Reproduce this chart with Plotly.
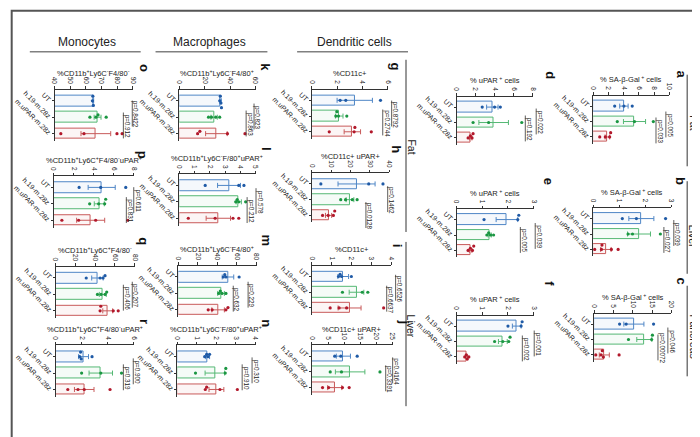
import plotly.graph_objects as go

W, H = 700, 437
groups = ["UT", "h.19-m.28z", "m.uPAR-m.28z"]

# ---------------- data ----------------
# Monocytes
o_mean = [64.7, 67.5, 66.4]; o_err = [0.3, 2.2, 9.5]
o_pts = [[64.2, 64.5, 64.8, 65.0], [62.6, 66.5, 67.8, 73.0], [44.0, 58.8, 79.9, 83.2]]
p_mean = [4.8, 4.56, 3.7]; p_err = [1.35, 0.5, 1.4]
p_pts = [[2.55, 4.7, 7.2], [3.6, 4.5, 5.1, 5.2], [0.83, 2.5, 4.2, 7.4]]
q_mean = [42.3, 47.7, 52.7]; q_err = [5.8, 3.5, 5.0]
q_pts = [[31, 45, 48, 50], [42.3, 46, 50, 51.7], [45, 45.7, 58.3, 63.3]]
r_mean = [2.15, 3.47, 2.2]; r_err = [0.38, 0.9, 0.75]
r_pts = [[1.85, 1.92, 1.97, 2.8], [2.0, 3.47, 5.06], [0.94, 1.72, 2.2, 4.18]]
# Macrophages
k_mean = [32.6, 27.4, 29.2]; k_err = [0.5, 2.5, 8.5]
k_pts = [[31.8, 32.3, 32.8, 33.2], [23, 25.3, 28.7, 31.8], [14.4, 16.2, 37.9, 51.7]]
l_mean = [3.26, 3.9, 2.56]; l_err = [0.75, 0.17, 0.8]
l_pts = [[1.7, 3.9, 4.24], [3.7, 3.8, 3.9, 4.35], [0.59, 2.35, 3.52, 3.9]]
m_mean = [50.8, 43.7, 40.7]; m_err = [5.9, 3.4, 6.4]
m_pts = [[46, 47.5, 48.8, 62.2], [41.3, 43, 44.7, 48.7], [30.6, 34.6, 48.7, 50.8]]
n_mean = [1.55, 1.92, 2.0]; n_err = [0.1, 0.5, 0.38]
n_pts = [[1.4, 1.5, 1.57, 1.65], [0.93, 2.45, 2.48], [1.43, 1.5, 2.18, 3.07]]
# Dendritic cells
g_mean = [3.39, 2.16, 3.2]; g_err = [1.4, 0.3, 0.65]
g_pts = [[2.23, 2.68, 5.43], [1.89, 1.97, 2.1, 2.76], [1.37, 3.34, 3.4, 4.7]]
h_mean = [23.1, 19.7, 8.6]; h_err = [9.6, 2.0, 1.6]
h_pts = [[4.6, 29.4, 36.8], [14.9, 17.4, 20.9, 23.4], [5.5, 8.4, 11.1, 11.8]]
i_mean = [1.58, 2.25, 1.9]; i_err = [0.27, 0.37, 0.58]
i_pts = [[1.34, 1.42, 1.5, 1.99], [1.54, 2.54, 2.82], [0.92, 1.37, 1.75, 3.62]]
j_mean = [9.8, 11.9, 7.1]; j_err = [2.2, 4.6, 2.2]
j_pts = [[7.1, 9.0, 14.1], [5.7, 9.2, 21.2], [3.3, 5.2, 9.5, 11.6]]
# uPAR+ cells
d_mean = [3.76, 3.9, 1.5]; d_err = [0.6, 1.55, 0.12]
d_pts = [[2.7, 4.0, 4.6], [1.74, 3.37, 6.85], [1.22, 1.46, 1.63, 1.74]]
e_mean = [1.96, 1.29, 0.55]; e_err = [0.42, 0.06, 0.05]
e_pts = [[1.07, 2.38, 2.42], [1.18, 1.25, 1.32, 1.44], [0.45, 0.54, 0.62, 0.67]]
f_mean = [2.34, 1.8, 0.39]; f_err = [0.17, 0.17, 0.04]
f_pts = [[2.0, 2.51, 2.55], [1.48, 1.8, 2.03, 2.08], [0.32, 0.38, 0.42, 0.48]]
# SA-beta-Gal+ cells
a_mean = [4.04, 5.43, 1.87]; a_err = [0.55, 1.45, 0.3]
a_pts = [[2.83, 4.04, 5.13], [3.17, 5.43, 7.9], [0.87, 1.6, 2.17, 2.3]]
b_mean = [1.85, 1.76, 0.49]; b_err = [0.48, 0.44, 0.2]
b_pts = [[1.12, 1.66, 2.78], [1.34, 1.51, 2.58], [0.06, 0.32, 0.34, 0.7, 0.96]]
c_mean = [10.3, 13.0, 2.64]; c_err = [2.6, 1.95, 1.3]
c_pts = [[6.6, 8.3, 15.4], [8.9, 14.9, 15.1], [0.43, 1.79, 2.13, 2.4, 6.47]]

# axis ticks
o_ticks = [40, 50, 60, 70, 80, 90]; p_ticks = [0, 2, 4, 6, 8]; q_ticks = [0, 20, 40, 60, 80]; r_ticks = [0, 2, 4, 6]
k_ticks = [0, 20, 40, 60]; l_ticks = [0, 1, 2, 3, 4, 5]; m_ticks = [0, 20, 40, 60, 80]; n_ticks = [0, 1, 2, 3, 4]
g_ticks = [0, 2, 4, 6]; h_ticks = [0, 10, 20, 30, 40]; i_ticks = [0, 1, 2, 3, 4]; j_ticks = [0, 5, 10, 15, 20, 25]
d_ticks = [0, 2, 4, 6, 8]; e_ticks = [0, 1, 2, 3]; f_ticks = [0, 1, 2, 3]
a_ticks = [0, 2, 4, 6, 8, 10]; b_ticks = [0, 1, 2, 3]; c_ticks = [0, 5, 10, 15, 20]

# p-values
o_p = ["p=0.8422", "p=0.912"]; p_p = ["p=0.611", "p=0.831"]; q_p = ["p=0.207", "p=0.406"]; r_p = ["p=0.900", "p=0.319"]
k_p = ["p=0.823", "p=0.863"]; l_p = ["p=0.578", "p=0.212"]; m_p = ["p=0.229", "p=0.632"]; n_p = ["p=0.310", "p=0.910"]
g_p = ["p=0.8792", "p=0.2744"]; h_p = ["p=0.1462", "p=0.0128"]; i_p = ["p=0.6526", "p=0.6637"]; j_p = ["p=0.4164", "p=0.3391"]
d_p = ["p=0.022", "p=0.192"]; e_p = ["p=0.039", "p=0.005"]; f_p = ["p=0.001", "p=0.002"]
a_p = ["p=0.005", "p=0.033"]; b_p = ["p=0.039", "p=0.027"]; c_p = ["p=0.046", "p=0.00072"]

T_MONO1 = "%CD11b<sup>+</sup>Ly6C<sup>-</sup>F4/80<sup>-</sup>"
T_MONO2 = "%CD11b<sup>+</sup>Ly6C<sup>+</sup>F4/80<sup>-</sup>uPAR<sup>+</sup>"
T_MONO3 = "%CD11b<sup>+</sup>Ly6C<sup>+</sup>F4/80<sup>-</sup>"
T_MAC1 = "%CD11b<sup>+</sup>Ly6C<sup>-</sup>F4/80<sup>+</sup>"
T_MAC2 = "%CD11b<sup>+</sup>Ly6C<sup>-</sup>F/80<sup>+</sup>uPAR<sup>+</sup>"
T_DC1 = "%CD11c+"
T_DC2 = "%CD11c+ uPAR+"
T_UPAR = "% uPAR<sup> +</sup> cells"
T_SA = "% SA-\u03b2-Gal<sup> +</sup> cells"

DATA = {
    "o": (o_mean, o_err, o_pts, o_ticks, o_p, T_MONO1),
    "p": (p_mean, p_err, p_pts, p_ticks, p_p, T_MONO2),
    "q": (q_mean, q_err, q_pts, q_ticks, q_p, T_MONO3),
    "r": (r_mean, r_err, r_pts, r_ticks, r_p, T_MONO2),
    "k": (k_mean, k_err, k_pts, k_ticks, k_p, T_MAC1),
    "l": (l_mean, l_err, l_pts, l_ticks, l_p, T_MAC2),
    "m": (m_mean, m_err, m_pts, m_ticks, m_p, T_MAC1),
    "n": (n_mean, n_err, n_pts, n_ticks, n_p, T_MAC2),
    "g": (g_mean, g_err, g_pts, g_ticks, g_p, T_DC1),
    "h": (h_mean, h_err, h_pts, h_ticks, h_p, T_DC2),
    "i": (i_mean, i_err, i_pts, i_ticks, i_p, T_DC1),
    "j": (j_mean, j_err, j_pts, j_ticks, j_p, T_DC2),
    "d": (d_mean, d_err, d_pts, d_ticks, d_p, T_UPAR),
    "e": (e_mean, e_err, e_pts, e_ticks, e_p, T_UPAR),
    "f": (f_mean, f_err, f_pts, f_ticks, f_p, T_UPAR),
    "a": (a_mean, a_err, a_pts, a_ticks, a_p, T_SA),
    "b": (b_mean, b_err, b_pts, b_ticks, b_p, T_SA),
    "c": (c_mean, c_err, c_pts, c_ticks, c_p, T_SA),
}

# ---------------- layout (pixel geometry) ----------------
# key: x0, x1, top, spacing, letter(x,y), p1(textx, texty, linex), p2(...)
GEOM = {
    "o": (44, 123, 80, 16.5, (135, 58), (126, 105, 122.5), (117, 117, 113.5)),
    "p": (43, 124, 167, 16.5, (133, 145), (128, 192, 124), (120, 202, 116.5)),
    "q": (45, 125, 258, 16.5, (133, 232), (126, 287, 122.5), (117, 290, 113.5)),
    "r": (45, 124, 337, 16.5, (135, 313), (127, 364, 123.5), (117, 370, 113.5)),
    "k": (170, 247, 80, 16.5, (257, 58), (249, 108, 245.5), (241, 115, 237.5)),
    "l": (170, 247, 165, 16.5, (258, 140), (251, 193, 247.5), (242, 202, 238.5)),
    "m": (169, 248, 257, 16.5, (258, 232), (243, 287, 239.5), (228, 291, 224.5)),
    "n": (168, 247, 337, 16.5, (258, 315), (247, 363, 243.5), (237, 370, 233.5)),
    "g": (304, 380.5, 80, 15.8, (388, 57), (388, 105, 384.5), (379, 114, 375.5)),
    "h": (304, 382, 164, 15.8, (390, 140), (384, 191, 380.5), (362, 207, 358.5)),
    "i": (304, 384, 257, 15.8, (390, 237), (392, 280, 388.5), (383, 291, 379.5)),
    "j": (304, 385, 337, 15.8, (397, 313), (389, 363, 385.5), (382, 371, 378.5)),
    "d": (450, 527, 87, 15.5, (545, 65), (534, 113, 530.5), (523, 120, 519.5)),
    "e": (450, 528, 200, 15.5, (543, 172), (533, 228, 529.5), (518, 232, 514.5)),
    "f": (450, 528, 307, 15.5, (544, 275), (532, 336, 528.5), (520, 341, 516.5)),
    "a": (588, 665, 86, 15.5, (677, 65), (665, 116, 661.5), (655, 122, 651.5)),
    "b": (588, 667, 199, 15.5, (677, 172), (673, 225, 669.5), (663, 232, 659.5)),
    "c": (589, 667, 305, 15.5, (677, 272), (667, 333, 663.5), (657, 340, 653.5)),
}

OUTLINE = ["#4f86c6", "#55b874", "#c85a5a"]
FILL = ["rgba(79,134,198,0.06)", "rgba(85,184,116,0.06)", "rgba(200,90,90,0.06)"]
DOT = ["#1f5aa6", "#1a9641", "#b2182b"]
FONT = "Liberation Sans, Arial, sans-serif"
AX = "#333333"


def X(px):
    return px / W


def Y(py):
    return 1 - py / H


fig = go.Figure()
annotations = []
shapes = []
G1, G2 = 0.68, 0.45

for idx, key in enumerate(DATA, start=1):
    mean, err, pts, ticks, pv, title = DATA[key]
    x0, x1, top, s, letter, pp1, pp2 = GEOM[key]
    bottom = top + s * (2 + G1 + G2)
    xa, ya = f"x{idx}", f"y{idx}"
    vmin, vmax = ticks[0], ticks[-1]
    ppu = (x1 - x0) / (vmax - vmin)

    fig.add_trace(go.Bar(
        x=mean, y=[0, 1, 2], base=0, orientation="h", width=0.66,
        marker=dict(color=FILL, line=dict(color=OUTLINE, width=1)),
        xaxis=xa, yaxis=ya, showlegend=False, hoverinfo="skip"))
    for gi in range(3):
        fig.add_trace(go.Scatter(
            x=[mean[gi]], y=[gi], mode="markers", marker=dict(size=0.1, color=OUTLINE[gi]),
            error_x=dict(type="data", array=[err[gi]], color=OUTLINE[gi], thickness=1, width=2.5),
            xaxis=xa, yaxis=ya, showlegend=False, hoverinfo="skip", cliponaxis=False))
        # simple dodge so that overlapping dots don't hide each other
        placed = []
        ys = []
        for v in pts[gi]:
            for off in [0, -0.14, 0.14, -0.28, 0.28, -0.42, 0.42]:
                ok = True
                for (pv_, po) in placed:
                    dx = (v - pv_) * ppu
                    dy = (off - po) * s
                    if dx * dx + dy * dy < 2.6 ** 2:
                        ok = False
                        break
                if ok:
                    placed.append((v, off))
                    ys.append(gi + off)
                    break
        fig.add_trace(go.Scatter(
            x=pts[gi], y=ys, mode="markers",
            marker=dict(size=3.2, color=DOT[gi], line=dict(width=0)),
            xaxis=xa, yaxis=ya, showlegend=False, hoverinfo="skip", cliponaxis=False))

    fig.layout[f"xaxis{idx}"] = dict(
        domain=[X(x0), X(x1)], range=[vmin, vmax], side="top", anchor=ya,
        tickmode="array", tickvals=ticks, ticktext=[str(t) for t in ticks],
        ticks="outside", ticklen=2.5, tickwidth=0.8, tickcolor=AX, tickangle=90,
        showline=True, linecolor=AX, linewidth=0.8, showgrid=False, zeroline=False,
        tickfont=dict(size=6.5, color="#222", family=FONT), fixedrange=True)
    fig.layout[f"yaxis{idx}"] = dict(
        domain=[Y(bottom), Y(top)], range=[2 + G2, -G1], anchor=xa,
        tickmode="array", tickvals=[0, 1, 2], ticktext=groups, tickangle=45,
        ticks="outside", ticklen=2, tickwidth=0.8, tickcolor=AX,
        showline=True, linecolor=AX, linewidth=0.8, showgrid=False, zeroline=False,
        tickfont=dict(size=7, color="#222", family=FONT), fixedrange=True)

    # title
    annotations.append(dict(text=title, x=X((x0 + x1) / 2), y=Y(top - 16.5), xref="paper", yref="paper",
                            showarrow=False, xanchor="center", yanchor="middle",
                            font=dict(size=7.5, color="#222", family=FONT)))
    # panel letter
    annotations.append(dict(text=f"<b>{key}</b>", x=X(letter[0]), y=Y(letter[1]), xref="paper", yref="paper",
                            showarrow=False, xanchor="center", yanchor="middle", textangle=90,
                            font=dict(size=13, color="#111", family=FONT)))
    # p-values
    for txt, (tx, ty, lx) in zip(pv, [pp1, pp2]):
        annotations.append(dict(text=txt, x=X(tx), y=Y(ty), xref="paper", yref="paper",
                                showarrow=False, xanchor="center", yanchor="middle", textangle=90,
                                font=dict(size=6.3, color="#222", family=FONT)))
        shapes.append(dict(type="line", xref="paper", yref="paper", x0=X(lx), x1=X(lx),
                           y0=Y(ty - 14), y1=Y(ty + 12), line=dict(color=AX, width=0.8)))

# column headers
headers = ["Monocytes", "Macrophages", "Dendritic cells"]
header_geom = [(77, 19, 131), (200, 146, 259), (347, 289, 401)]
for txt, (cx, lx0, lx1) in zip(headers, header_geom):
    annotations.append(dict(text=txt, x=X(cx), y=Y(32), xref="paper", yref="paper", showarrow=False,
                            xanchor="center", yanchor="middle", font=dict(size=12, color="#222", family=FONT)))
    shapes.append(dict(type="line", xref="paper", yref="paper", x0=X(lx0), x1=X(lx1), y0=Y(42), y1=Y(42),
                       line=dict(color="#808080", width=1.6)))

# row (organ) labels
organs = ["Fat", "Liver", "Pancreas", "Fat", "Liver"]
organ_geom = [(689, 113, 683, 65, 157), (689, 227, 683, 172, 265), (689, 328, 683, 277, 368),
              (405, 138, 399, 50, 223), (405, 318, 399, 233, 398)]
for txt, (tx, ty, lx, ly0, ly1) in zip(organs, organ_geom):
    annotations.append(dict(text=txt, x=X(tx), y=Y(ty), xref="paper", yref="paper", showarrow=False,
                            xanchor="center", yanchor="middle", textangle=90, borderpad=0,
                            font=dict(size=10.5, color="#222", family=FONT)))
    shapes.append(dict(type="line", xref="paper", yref="paper", x0=X(lx), x1=X(lx), y0=Y(ly0), y1=Y(ly1),
                       line=dict(color="#333", width=1)))

# frame
shapes.append(dict(type="rect", xref="paper", yref="paper", x0=0.001, x1=0.999, y0=0.002, y1=0.998,
                   line=dict(color="#555", width=2)))

fig.update_layout(width=W, height=H, margin=dict(l=0, r=0, t=0, b=0),
                  paper_bgcolor="white", plot_bgcolor="rgba(0,0,0,0)",
                  annotations=annotations, shapes=shapes, bargap=0,
                  font=dict(family=FONT))
fig.write_html("out.html")
